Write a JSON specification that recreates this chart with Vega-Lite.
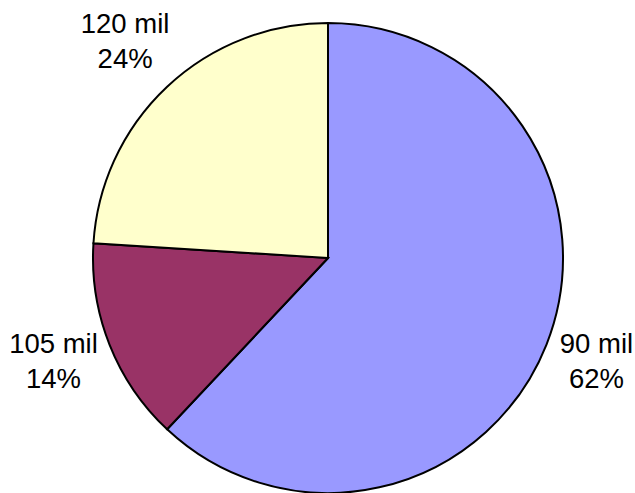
{
  "$schema": "https://vega.github.io/schema/vega-lite/v6.json",
  "width": 614,
  "height": 470,
  "autosize": {"type": "none"},
  "padding": {"left": 21, "top": 23, "right": 0, "bottom": 0},
  "background": "white",
  "view": {"stroke": null},
  "data": {
    "values": [
      {"category": "90 mil", "value": 62, "order": 1, "label": ["90 mil", "62%"]},
      {"category": "105 mil", "value": 14, "order": 2, "label": ["105 mil", "14%"]},
      {"category": "120 mil", "value": 24, "order": 3, "label": ["120 mil", "24%"]}
    ]
  },
  "encoding": {
    "theta": {"field": "value", "type": "quantitative", "stack": true},
    "order": {"field": "order", "type": "quantitative"}
  },
  "layer": [
    {
      "mark": {"type": "arc", "outerRadius": 235, "stroke": "black", "strokeWidth": 2, "strokeJoin": "miter"},
      "encoding": {
        "color": {
          "field": "category",
          "type": "nominal",
          "scale": {"domain": ["90 mil", "105 mil", "120 mil"], "range": ["#9999FF", "#993366", "#FFFFCC"]},
          "legend": null
        }
      }
    },
    {
      "mark": {"type": "text", "radius": 292, "dx": -3, "dy": -20.5, "font": "Liberation Sans", "fontSize": 27.5, "lineHeight": 35, "align": "center", "baseline": "middle", "color": "black"},
      "encoding": {
        "text": {"field": "label"}
      }
    }
  ]
}
